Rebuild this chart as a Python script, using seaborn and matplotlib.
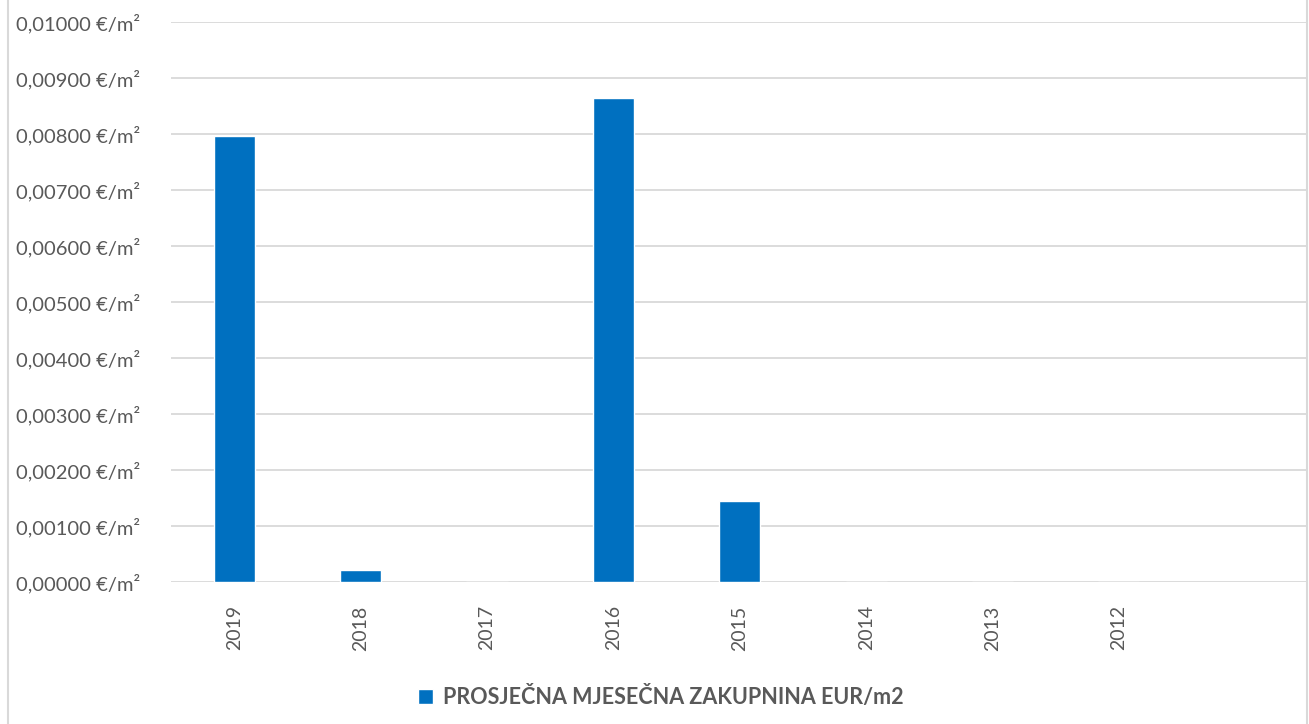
import matplotlib
matplotlib.use("Agg")
import matplotlib.pyplot as plt
from matplotlib.lines import Line2D
from matplotlib.patches import Patch
from matplotlib.ticker import FuncFormatter, MultipleLocator
import seaborn as sns
import pandas as pd

years = ["2019", "2018", "2017", "2016", "2015", "2014", "2013", "2012"]
rent = [0.00796, 0.00021, 0.0, 0.00864, 0.00144, 0.0, 0.0, 0.0]
series_name = "PROSJEČNA MJESEČNA ZAKUPNINA EUR/m2"

sns.set_theme(style="white")
plt.rcParams["font.family"] = ["Lato", "DejaVu Sans"]

df = pd.DataFrame({"year": years, "rent": rent})

fig = plt.figure(figsize=(13.09, 7.24), dpi=100)
ax = fig.add_axes([171 / 1309, 142.3 / 724, (1306 - 171) / 1309, (581.7 - 21.7) / 724])

bar_color = "#0070C0"
text_color = "#595959"
grid_color = "#D9D9D9"

sns.barplot(data=df, x="year", y="rent", order=years, color=bar_color,
            width=0.325, saturation=1, ax=ax, zorder=3)

ax.set_ylim(0, 0.01)
ax.set_xlim(-0.5, 8.48)
ax.yaxis.set_major_locator(MultipleLocator(0.001))
ax.yaxis.set_major_formatter(
    FuncFormatter(lambda v, _: f"{v:.5f}".replace(".", ",") + " €/m²"))
ax.grid(axis="y", color=grid_color, linewidth=1.3, zorder=0)
ax.set_axisbelow(True)
for s in ax.spines.values():
    s.set_visible(False)
ax.set_xlabel("")
ax.set_ylabel("")
ax.tick_params(axis="y", length=0, pad=22, labelsize=14.5, labelcolor=text_color)
ax.tick_params(axis="x", length=0, pad=17, labelsize=14, labelcolor=text_color,
               labelrotation=90)

# outer chart frame
for xf in (8 / 1309, 1306.5 / 1309):
    fig.add_artist(Line2D([xf, xf], [0, 1], transform=fig.transFigure,
                          color=grid_color, linewidth=1.5))

fig.legend(handles=[Patch(facecolor=bar_color, label=series_name)],
           loc="center", bbox_to_anchor=(661 / 1309, 1 - 697 / 724),
           frameon=False, handlelength=0.7, handleheight=0.7, handletextpad=0.45,
           prop={"weight": "bold", "size": 15.5}, labelcolor=text_color)

fig.savefig("out.png", dpi=100)
